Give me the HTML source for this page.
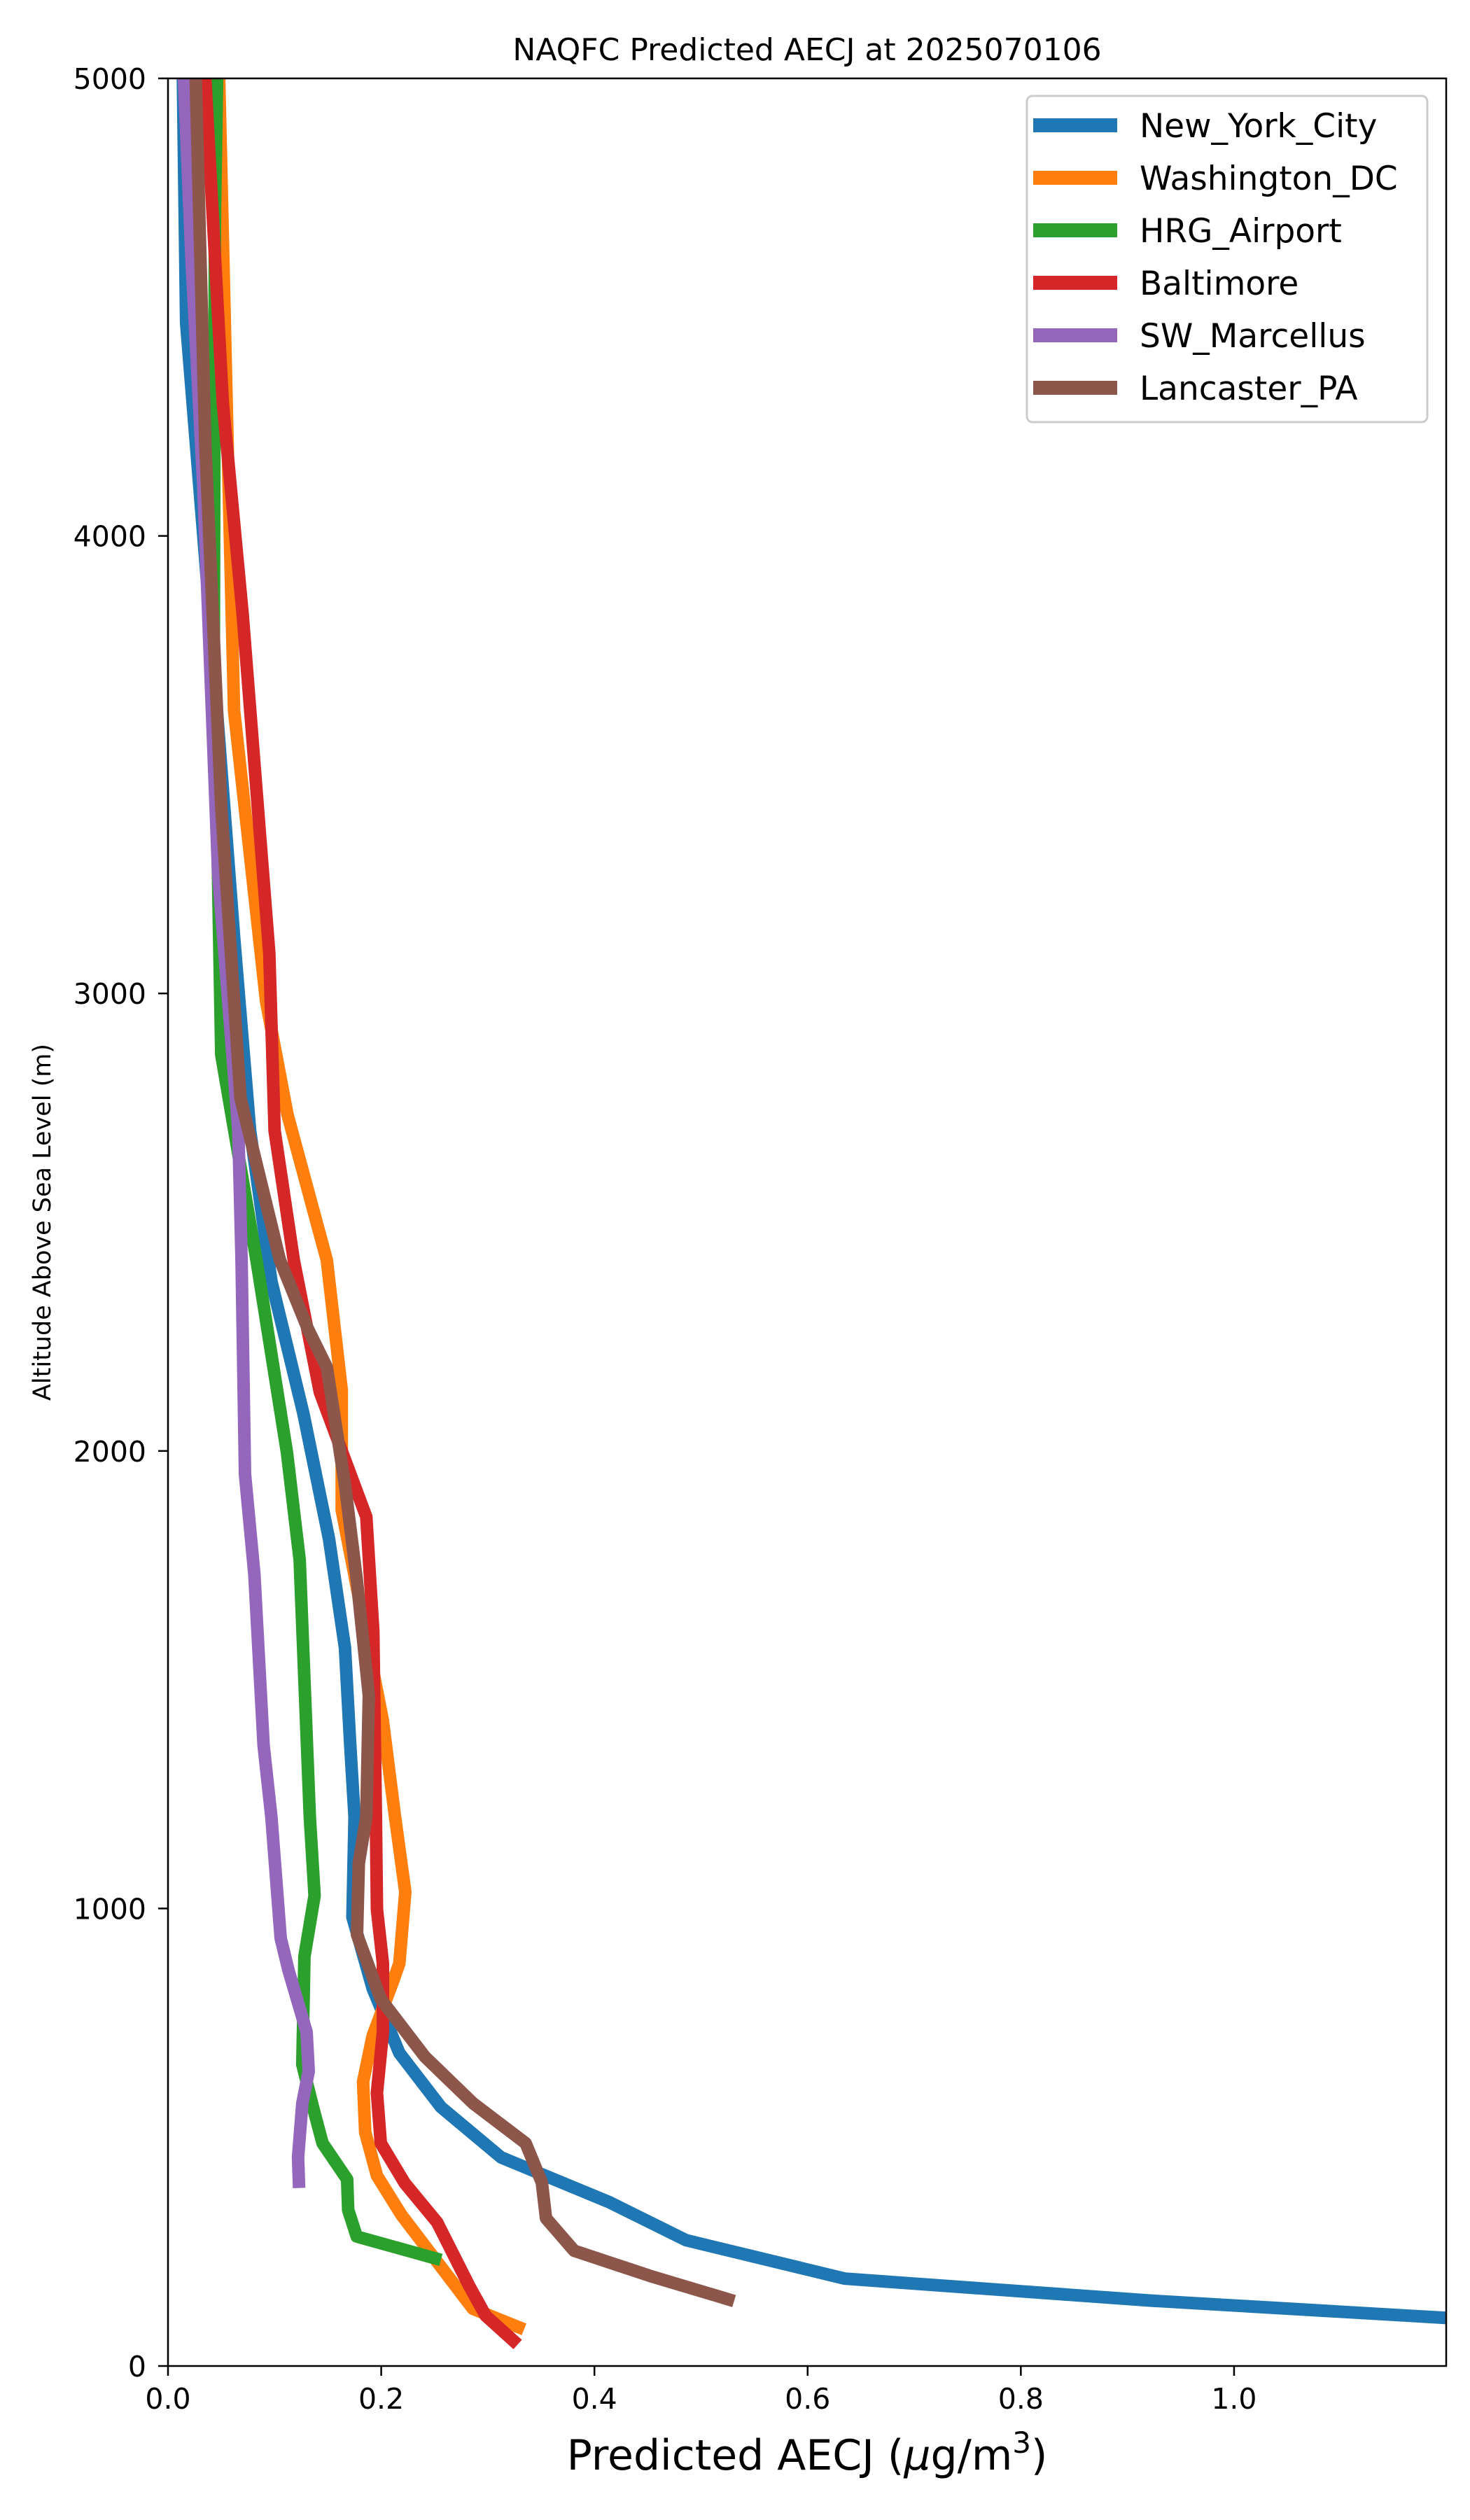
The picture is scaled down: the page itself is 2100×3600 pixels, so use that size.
<!DOCTYPE html>
<html><head><meta charset="utf-8"><style>
html,body{margin:0;padding:0;background:#fff;}
svg{display:block;font-family:"DejaVu Sans","Liberation Sans",sans-serif;}
</style></head><body>
<svg id="chart" width="2100" height="3600" viewBox="0 0 2100 3600" xmlns="http://www.w3.org/2000/svg">
<rect width="2100" height="3600" fill="#fff"/>
<defs><clipPath id="plotclip"><rect x="240" y="112" width="1826" height="3268"/></clipPath></defs>
<text x="1153" y="86" text-anchor="middle" font-size="44">NAQFC Predicted AECJ at 2025070106</text>
<g id="series" clip-path="url(#plotclip)"></g>
<rect x="240" y="112" width="1826" height="3268" fill="none" stroke="#000" stroke-width="2.5"/>
<g id="xticks"></g>
<g id="yticks"></g>
<text x="1153" y="3528" text-anchor="middle" font-size="60">Predicted AECJ (<tspan font-style="italic">μ</tspan>g/m<tspan dy="-24" font-size="42">3</tspan><tspan dy="24">)</tspan></text>
<text transform="translate(72,1746) rotate(-90)" text-anchor="middle" font-size="35">Altitude Above Sea Level (m)</text>
<g id="legend">
<rect x="1467" y="137" width="572" height="466" rx="8" fill="#fff" fill-opacity="0.8" stroke="#cccccc" stroke-width="3"/>
</g>
</svg>
<script>
const seriesNames = ["New_York_City","Washington_DC","HRG_Airport","Baltimore","SW_Marcellus","Lancaster_PA"];
const seriesColors = ["#1f77b4","#ff7f0e","#2ca02c","#d62728","#9467bd","#8c564b"];
const nycAlt = [5000,4466,3830,3124,2700,2371,2082,1808,1570,1356,1200,981,825,684,566,456,358,275,191,143,105];
const nycVal = [0.014,0.017,0.039,0.062,0.077,0.097,0.127,0.151,0.166,0.171,0.175,0.173,0.192,0.217,0.256,0.3125,0.414,0.486,0.635,0.921,1.2];
const dcAlt = [5000,4289,3618,2983,2736,2417,2133,1871,1411,1200,1036,880,840,722,621,511,416,330,125,80];
const dcVal = [0.048,0.055,0.062,0.092,0.112,0.149,0.163,0.163,0.2015,0.213,0.2226,0.217,0.211,0.192,0.183,0.185,0.196,0.219,0.286,0.334];
const hrgAlt = [5000,4700,3760,2866,2417,1996,1762,1200,1028,895,659,566,487,408,341,283,232];
const hrgVal = [0.046,0.044,0.043,0.05,0.083,0.1116,0.1235,0.133,0.1375,0.128,0.126,0.136,0.145,0.168,0.169,0.177,0.256];
const balAlt = [5000,4289,3830,3088,2700,2417,2128,1856,1606,1200,998,880,730,597,487,400,314,173,110,47];
const balVal = [0.035,0.0515,0.07,0.095,0.1,0.118,0.1425,0.186,0.1926,0.195,0.196,0.2016,0.2016,0.196,0.1996,0.222,0.2525,0.283,0.298,0.328];
const swmAlt = [5000,4607,4113,3265,2700,2417,1949,1730,1356,1200,935,865,730,644,574,456,389];
const swmVal = [0.015,0.022,0.033,0.047,0.066,0.069,0.0722,0.081,0.0897,0.097,0.1057,0.113,0.130,0.132,0.126,0.122,0.123];
const lanAlt = [5000,4200,3406,2771,2417,2268,2183,1926,1715,1466,1200,1099,943,802,676,574,487,401,323,252,197,142];
const lanVal = [0.026,0.035,0.05,0.068,0.105,0.131,0.149,0.166,0.1773,0.1884,0.186,0.179,0.1773,0.1996,0.241,0.2863,0.3355,0.3507,0.3546,0.381,0.452,0.531];
const xTicks = [0,0.2,0.4,0.6,0.8,1.0];
const xTickLabels = ["0.0","0.2","0.4","0.6","0.8","1.0"];
const yTicks = [0,1000,2000,3000,4000,5000];
const yTickLabels = ["0","1000","2000","3000","4000","5000"];

const X0=240, X1=2066, Y0=3380, Y1=112, XMAX=1.199, YMAX=5000;
function xs(v){return X0+(X1-X0)*v/XMAX;}
function ys(v){return Y0-(Y0-Y1)*v/YMAX;}
const NS="http://www.w3.org/2000/svg";
const allAlt=[nycAlt,dcAlt,hrgAlt,balAlt,swmAlt,lanAlt];
const allVal=[nycVal,dcVal,hrgVal,balVal,swmVal,lanVal];
const sg=document.getElementById('series');
for(let s=0;s<6;s++){
  const p=document.createElementNS(NS,'polyline');
  p.setAttribute('points',allVal[s].map((v,i)=>xs(v).toFixed(1)+','+ys(allAlt[s][i]).toFixed(1)).join(' '));
  p.setAttribute('fill','none');
  p.setAttribute('stroke',seriesColors[s]);
  p.setAttribute('stroke-width','18');
  p.setAttribute('stroke-linejoin','round');
  
  
  sg.appendChild(p);
}
const xg=document.getElementById('xticks');
xTicks.forEach((t,i)=>{
  const l=document.createElementNS(NS,'line');
  l.setAttribute('x1',xs(t));l.setAttribute('x2',xs(t));l.setAttribute('y1',Y0);l.setAttribute('y2',Y0+14);
  l.setAttribute('stroke','#000');l.setAttribute('stroke-width','2.5');
  
  
  xg.appendChild(l);
  const tx=document.createElementNS(NS,'text');
  tx.setAttribute('x',xs(t));tx.setAttribute('y',3441);tx.setAttribute('text-anchor','middle');tx.setAttribute('font-size','41');
  tx.textContent=xTickLabels[i];
  
  
  xg.appendChild(tx);
});
const yg=document.getElementById('yticks');
yTicks.forEach((t,i)=>{
  const l=document.createElementNS(NS,'line');
  l.setAttribute('x1',X0-14);l.setAttribute('x2',X0);l.setAttribute('y1',ys(t));l.setAttribute('y2',ys(t));
  l.setAttribute('stroke','#000');l.setAttribute('stroke-width','2.5');
  
  
  yg.appendChild(l);
  const tx=document.createElementNS(NS,'text');
  tx.setAttribute('x',209);tx.setAttribute('y',ys(t)+15);tx.setAttribute('text-anchor','end');tx.setAttribute('font-size','41');
  tx.textContent=yTickLabels[i];
  
  
  yg.appendChild(tx);
});
const lg=document.getElementById('legend');
seriesNames.forEach((n,i)=>{
  const cy=179+75*i;
  const g=document.createElementNS(NS,'g');
  
  
  const l=document.createElementNS(NS,'line');
  l.setAttribute('x1',1476);l.setAttribute('x2',1596);l.setAttribute('y1',cy);l.setAttribute('y2',cy);
  l.setAttribute('stroke',seriesColors[i]);l.setAttribute('stroke-width','20');
  
  
  g.appendChild(l);
  const t=document.createElementNS(NS,'text');
  t.setAttribute('x',1628);t.setAttribute('y',cy+17);t.setAttribute('font-size','47');
  t.textContent=n;
  
  
  g.appendChild(t);
  lg.appendChild(g);
});
</script>
</body></html>
